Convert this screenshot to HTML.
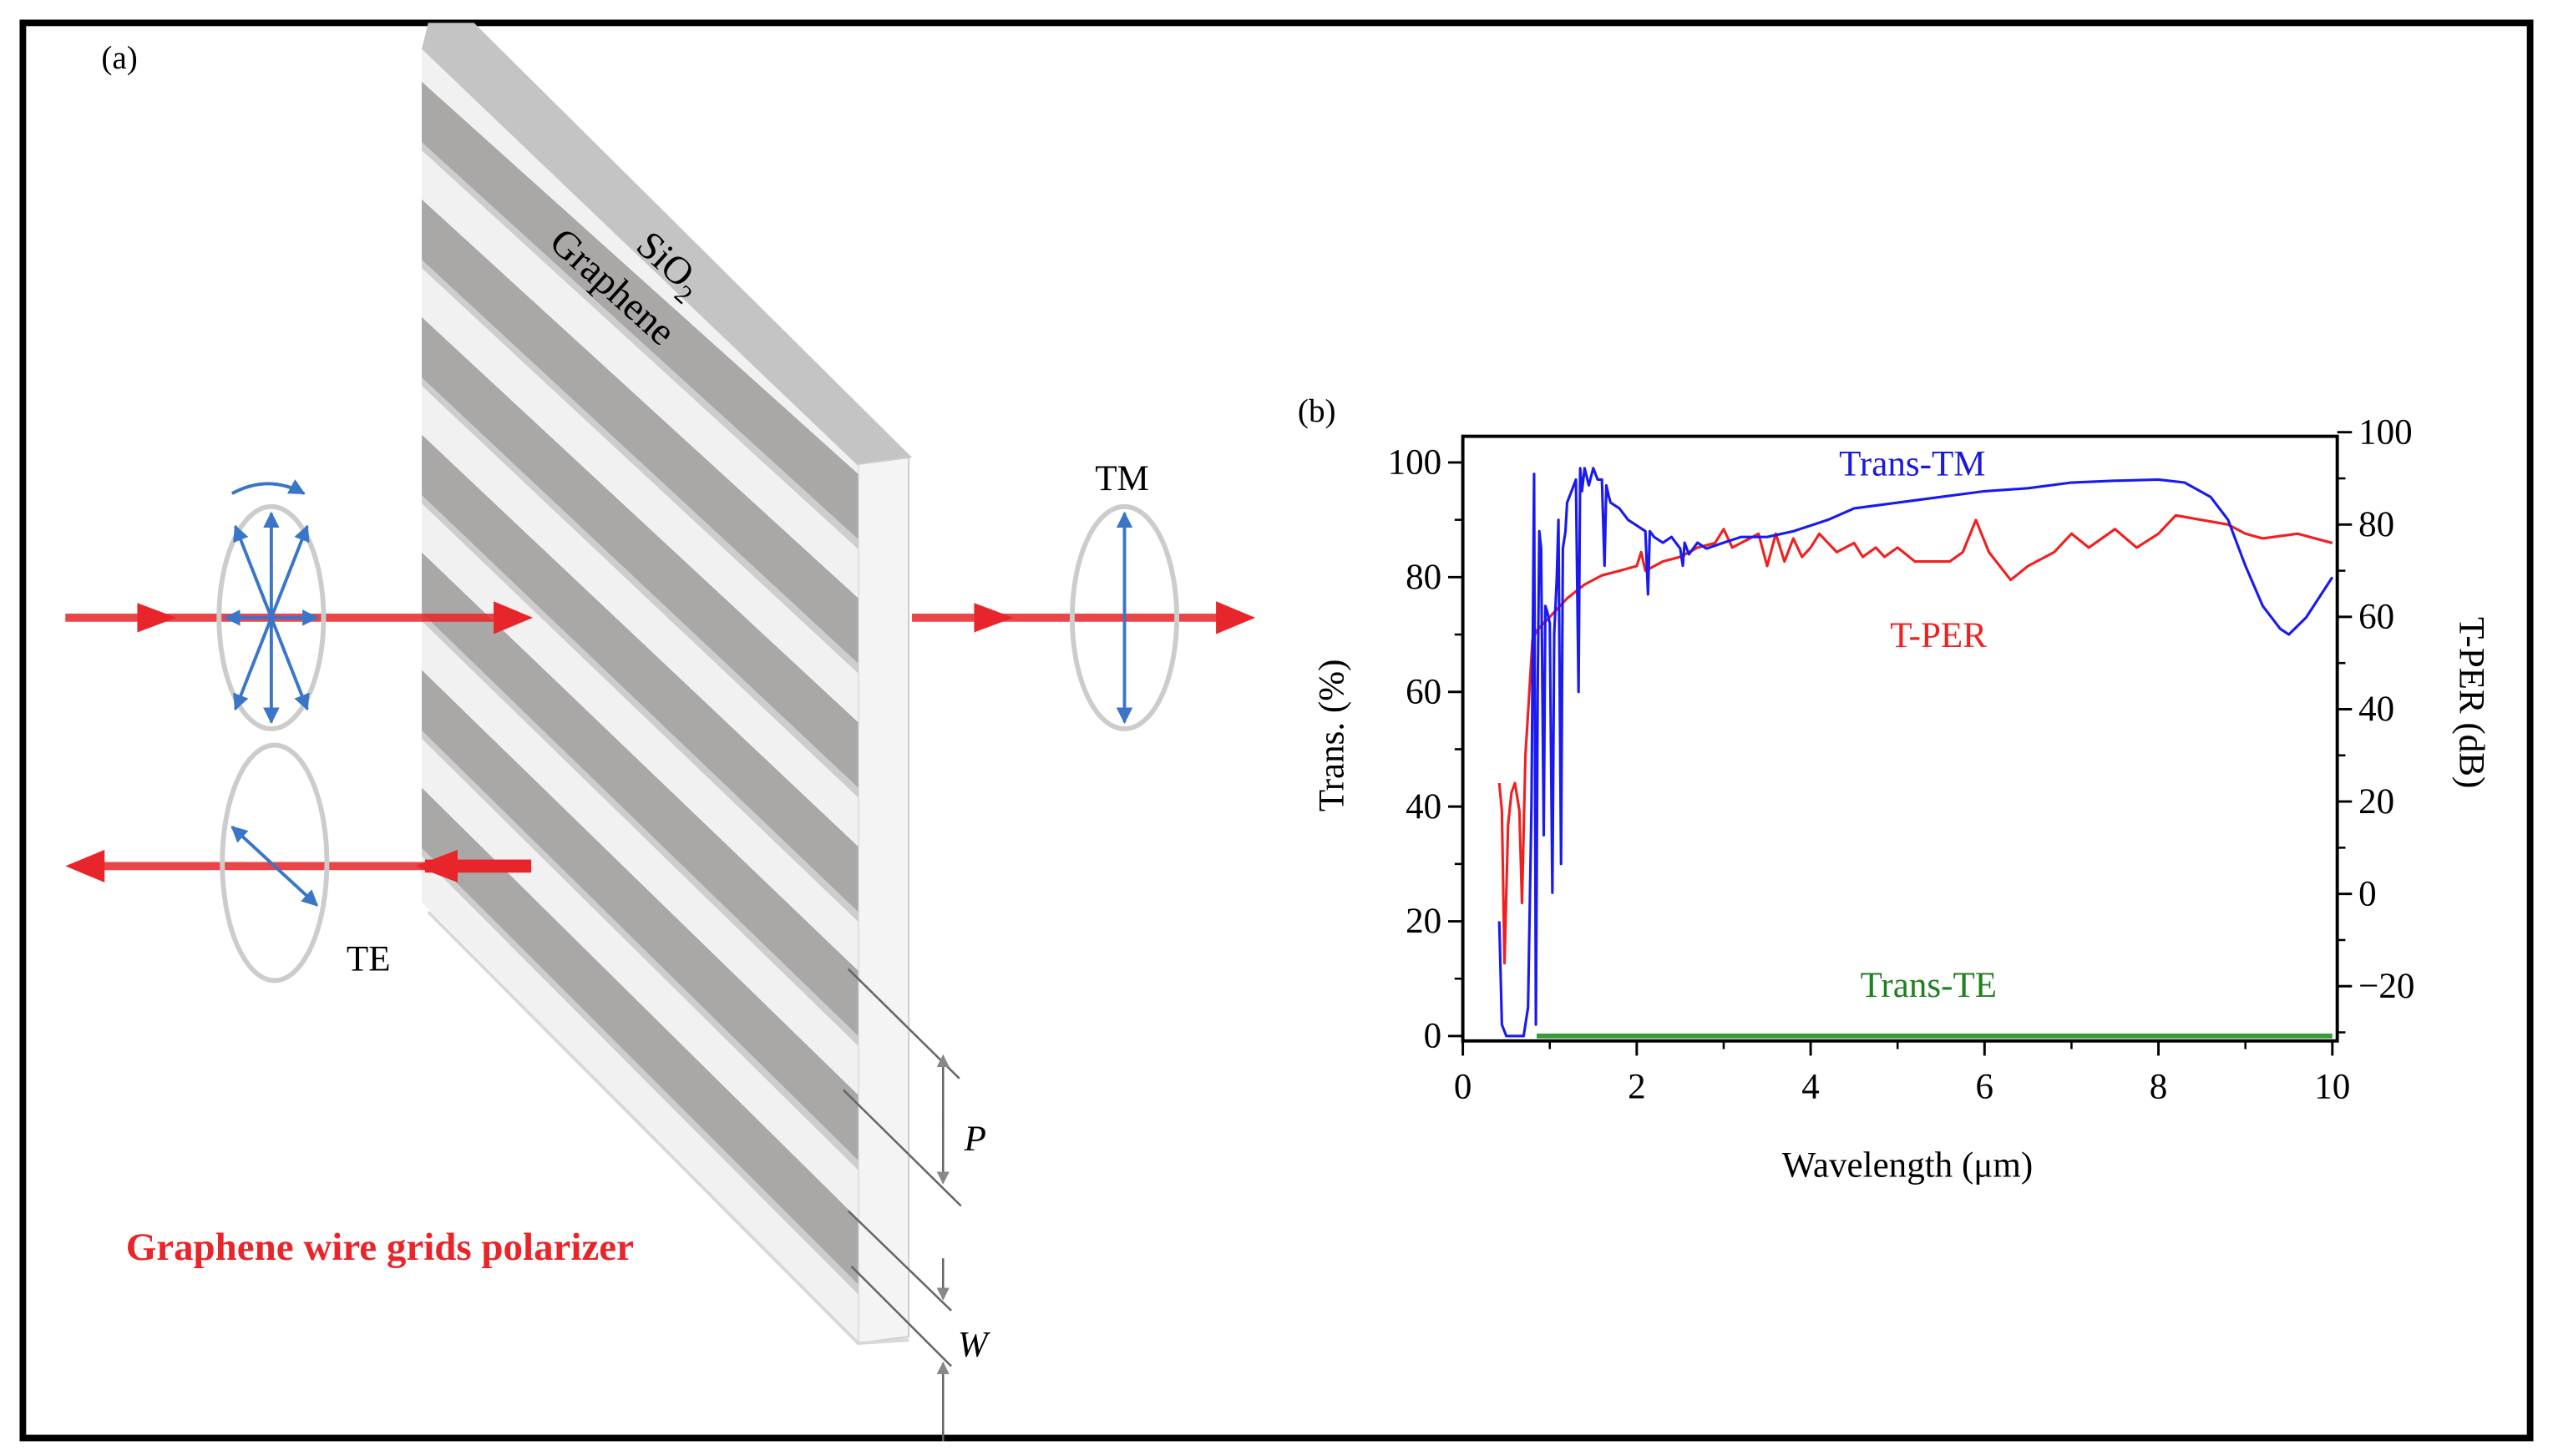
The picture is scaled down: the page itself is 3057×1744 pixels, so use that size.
<!DOCTYPE html>
<html><head><meta charset="utf-8"><style>
html,body{margin:0;padding:0;background:#fff;}
svg{display:block;}
text{font-family:"Liberation Serif","DejaVu Serif",serif;}
</style></head><body>
<svg id="root" width="3057" height="1744" viewBox="0 0 1562 891" preserveAspectRatio="none" font-family="'Liberation Serif', serif" xmlns="http://www.w3.org/2000/svg">
<defs>
<clipPath id="faceclip"><polygon points="258,30 525,285 525,821 258,552"/></clipPath>
<marker id="bhead" viewBox="0 0 10 10" refX="9" refY="5" markerWidth="5" markerHeight="5" orient="auto"><path d="M0,0 L10,5 L0,10 z" fill="#3a76c8"/></marker>
<marker id="ghead" viewBox="0 0 10 10" refX="9" refY="5" markerWidth="6" markerHeight="6" orient="auto"><path d="M0,0 L10,5 L0,10 z" fill="#888"/></marker>
</defs>
<rect x="14" y="14" width="1534" height="866" fill="#fff" stroke="#000" stroke-width="4"/>

<g>
<text x="62" y="42" font-size="20">(a)</text>
<polygon points="262,14 290,14 558,280 525,286 258,30" fill="#c4c4c4"/>
<polygon points="525,284 556,280 556,818 525,822" fill="#f4f4f4" stroke="#ccc" stroke-width="1"/>
<polygon points="258,30 525,285 525,821 258,552" fill="#f1f1f1"/>
<g id="bands" clip-path="url(#faceclip)"></g>
<polyline points="262,558 525,822 556,820" fill="none" stroke="#d8d8d8" stroke-width="2"/>
<text x="0" y="0" font-size="24" transform="translate(388,152) rotate(42)">SiO<tspan font-size="16" dy="6">2</tspan></text>
<text x="0" y="0" font-size="24" transform="translate(335,150) rotate(42)">Graphene</text>

<g>
<line x1="40" y1="378" x2="318" y2="378" stroke="#e8252a" stroke-width="5" opacity="0.85"/>
<polygon points="84,369 108,378 84,387" fill="#e8252a"/>
<polygon points="302,368 326,378 302,388" fill="#e8252a"/>
</g>
<g>
<line x1="558" y1="378" x2="760" y2="378" stroke="#e8252a" stroke-width="5" opacity="0.85"/>
<polygon points="596,369 620,378 596,387" fill="#e8252a"/>
<polygon points="744,368 768,378 744,388" fill="#e8252a"/>
</g>
<g>
<line x1="48" y1="530" x2="325" y2="530" stroke="#e8252a" stroke-width="5" opacity="0.85"/>
<rect x="260" y="526" width="65" height="8" fill="#e8252a"/>
<polygon points="280,520 254,530 280,540" fill="#e8252a"/>
<polygon points="64,520 40,530 64,540" fill="#e8252a"/>
</g>
<g>
<ellipse cx="166" cy="378" rx="32" ry="68" fill="none" stroke="#ccc" stroke-width="3"/>
<line x1="166" y1="378" x2="166" y2="314" stroke="#3a76c8" stroke-width="2" marker-end="url(#bhead)"/>
<line x1="166" y1="378" x2="166" y2="442" stroke="#3a76c8" stroke-width="2" marker-end="url(#bhead)"/>
<line x1="166" y1="378" x2="188" y2="322" stroke="#3a76c8" stroke-width="2" marker-end="url(#bhead)"/>
<line x1="166" y1="378" x2="144" y2="322" stroke="#3a76c8" stroke-width="2" marker-end="url(#bhead)"/>
<line x1="166" y1="378" x2="188" y2="434" stroke="#3a76c8" stroke-width="2" marker-end="url(#bhead)"/>
<line x1="166" y1="378" x2="144" y2="434" stroke="#3a76c8" stroke-width="2" marker-end="url(#bhead)"/>
<line x1="166" y1="378" x2="194" y2="378" stroke="#3a76c8" stroke-width="2" marker-end="url(#bhead)"/>
<line x1="166" y1="378" x2="138" y2="378" stroke="#3a76c8" stroke-width="2" marker-end="url(#bhead)"/>
<path d="M142,302 Q164,290 186,302" fill="none" stroke="#3a76c8" stroke-width="2" marker-end="url(#bhead)"/>
</g>
<g>
<ellipse cx="168" cy="528" rx="32" ry="72" fill="none" stroke="#ccc" stroke-width="3"/>
<line x1="168" y1="530" x2="142" y2="506" stroke="#3a76c8" stroke-width="2" marker-end="url(#bhead)"/>
<line x1="168" y1="530" x2="194" y2="554" stroke="#3a76c8" stroke-width="2" marker-end="url(#bhead)"/>
</g>
<text x="212" y="594" font-size="22">TE</text>
<g>
<ellipse cx="688" cy="378" rx="32" ry="68" fill="none" stroke="#ccc" stroke-width="3"/>
<line x1="688" y1="378" x2="688" y2="314" stroke="#3a76c8" stroke-width="2" marker-end="url(#bhead)"/>
<line x1="688" y1="378" x2="688" y2="442" stroke="#3a76c8" stroke-width="2" marker-end="url(#bhead)"/>
</g>
<text x="670" y="300" font-size="22">TM</text>
<g stroke="#666" stroke-width="1.3" fill="none">
<line x1="519" y1="593" x2="587" y2="660"/>
<line x1="516" y1="667" x2="588" y2="738"/>
<line x1="519" y1="741" x2="582" y2="802"/>
<line x1="521" y1="775" x2="582" y2="836"/>
<line x1="577" y1="690" x2="577" y2="646" marker-end="url(#ghead)"/>
<line x1="577" y1="680" x2="577" y2="724" marker-end="url(#ghead)"/>
<line x1="577" y1="770" x2="577" y2="795" marker-end="url(#ghead)"/>
<line x1="577" y1="882" x2="577" y2="834" marker-end="url(#ghead)"/>
</g>
<text x="590" y="704" font-size="22" font-style="italic">P</text>
<text x="586" y="830" font-size="22" font-style="italic">W</text>
<text x="77" y="771" font-size="24" font-weight="bold" fill="#e8252a">Graphene wire grids polarizer</text>
</g>

<g id="chart">
<text x="794" y="258" font-size="20">(b)</text>
<g id="series"></g>
<rect x="895" y="267" width="535" height="370" fill="none" stroke="#000" stroke-width="2"/>
<g id="axes"></g>
<text x="1167" y="720" font-size="22" text-anchor="middle">Wavelength (μm)</text>
<text x="0" y="0" font-size="22" text-anchor="middle" transform="translate(822,450) rotate(-90)">Trans. (%)</text>
<text x="0" y="0" font-size="22" text-anchor="middle" transform="translate(1505,430) rotate(90)">T-PER (dB)</text>
<text x="1170" y="291" font-size="22" fill="#1a1ad8" text-anchor="middle">Trans-TM</text>
<text x="1186" y="396" font-size="22" fill="#f02020" text-anchor="middle">T-PER</text>
<text x="1180" y="610" font-size="22" fill="#208020" text-anchor="middle">Trans-TE</text>
</g>
</svg>
<script>
const tmWave = [0.42,0.45,0.5,0.6,0.7,0.75,0.79,0.82,0.84,0.86,0.88,0.9,0.93,0.95,0.97,1.0,1.03,1.05,1.08,1.1,1.13,1.15,1.18,1.2,1.25,1.3,1.33,1.35,1.37,1.4,1.45,1.5,1.55,1.6,1.63,1.65,1.68,1.7,1.8,1.9,2.0,2.1,2.13,2.15,2.2,2.3,2.4,2.5,2.53,2.55,2.6,2.7,2.8,3.0,3.2,3.5,3.8,4.0,4.2,4.5,5.0,5.5,6.0,6.5,7.0,7.5,8.0,8.3,8.6,8.8,9.0,9.2,9.4,9.5,9.7,10.0];
const tmValue = [20,2,0,0,0,5,40,98,2,60,88,85,35,75,74,72,25,70,80,90,30,85,88,93,95,97,60,99,95,99,96,99,97,97,82,96,94,93,92,90,89,88,77,88,87,86,87,85,82,86,84,86,85,86,87,87,88,89,90,92,93,94,95,95.5,96.5,96.8,97,96.5,94,90,82,75,71,70,73,80];
const perWave = [0.42,0.45,0.48,0.52,0.56,0.6,0.65,0.68,0.72,0.76,0.8,0.85,0.9,1.0,1.2,1.4,1.6,1.8,2.0,2.05,2.1,2.3,2.5,2.7,2.9,3.0,3.1,3.2,3.3,3.4,3.5,3.6,3.7,3.8,3.9,4.0,4.1,4.3,4.5,4.6,4.75,4.85,5.0,5.2,5.4,5.6,5.75,5.9,6.05,6.3,6.5,6.8,7.0,7.2,7.5,7.75,8.0,8.2,8.5,8.8,9.0,9.2,9.6,10.0];
const perValue = [24,18,-15,15,22,24,18,-2,30,42,55,57,58,60,64,67,69,70,71,74,70,72,73,75,76,79,75,76,77,78,71,78,72,77,73,75,78,74,76,73,75,73,75,72,72,72,74,81,74,68,71,74,78,75,79,75,78,82,81,80,78,77,78,76];
const teWave = [0.85,10.0];
const teValue = [0,0];
const xTicks = [0,2,4,6,8,10];
const yLeftTicks = [0,20,40,60,80,100];
const yRightTicks = [-20,0,20,40,60,80,100];

const NS="http://www.w3.org/2000/svg";
function xs(v){return 895+v*53.2;}
function yl(v){return 634-v*3.51;}
function yr(d){return 547-d*2.825;}
function mk(tag,attrs,parent){const e=document.createElementNS(NS,tag);for(const k in attrs)e.setAttribute(k,attrs[k]);parent.appendChild(e);return e;}

const bands=document.getElementById('bands');
for(let i=0;i<8;i++){
  const yL=50+72*i, yR=290+76*i;
  const p=mk('polygon',{points:`258,${yL} 525,${yR} 525,${yR+40} 258,${yL+37}`,fill:'#aaa7a7'},bands);
  
  
  const s=mk('polygon',{points:`258,${yL+37} 525,${yR+40} 525,${yR+46} 258,${yL+42}`,fill:'#cdcdcd'},bands);
  
  
}

const series=document.getElementById('series');
function line(wv,vals,yf,color,name){
  const d=wv.map((w,i)=>(i?'L':'M')+xs(w).toFixed(1)+','+yf(vals[i]).toFixed(1)).join(' ');
  const p=mk('path',{d:d,fill:'none',stroke:color,'stroke-width':name==='trans-te-line'?3:1.6,'stroke-linejoin':'round'},series);
  
  
}
line(teWave,teValue,yl,'#3a9a3a','trans-te-line');
line(perWave,perValue,yr,'#f02020','t-per-line');
line(tmWave,tmValue,yl,'#1a1af0','trans-tm-line');

const axes=document.getElementById('axes');
xTicks.forEach(t=>{
  const l=mk('line',{x1:xs(t),y1:637,x2:xs(t),y2:646,stroke:'#000','stroke-width':1.5},axes);
  
  
  const tx=mk('text',{x:xs(t),y:672,'font-size':22,'text-anchor':'middle'},axes);
  tx.textContent=t;
  
  
  if(t<10){const m=mk('line',{x1:xs(t+1),y1:637,x2:xs(t+1),y2:642,stroke:'#000','stroke-width':1.3},axes);
  
  }
});
yLeftTicks.forEach(t=>{
  const l=mk('line',{x1:886,y1:yl(t),x2:895,y2:yl(t),stroke:'#000','stroke-width':1.5},axes);
  
  
  const tx=mk('text',{x:882,y:yl(t)+7,'font-size':22,'text-anchor':'end'},axes);
  tx.textContent=t;
  
  
  if(t<100){const m=mk('line',{x1:890,y1:yl(t+10),x2:895,y2:yl(t+10),stroke:'#000','stroke-width':1.3},axes);
  
  }
});
yRightTicks.forEach(t=>{
  const l=mk('line',{x1:1430,y1:yr(t),x2:1439,y2:yr(t),stroke:'#000','stroke-width':1.5},axes);
  
  
  const tx=mk('text',{x:1443,y:yr(t)+7,'font-size':22,'text-anchor':'start'},axes);
  tx.textContent=t<0?'\u2212'+(-t):t;
  
  
  const m=mk('line',{x1:1430,y1:yr(t-10),x2:1435,y2:yr(t-10),stroke:'#000','stroke-width':1.3},axes);
  
  
});
</script>
</body></html>
